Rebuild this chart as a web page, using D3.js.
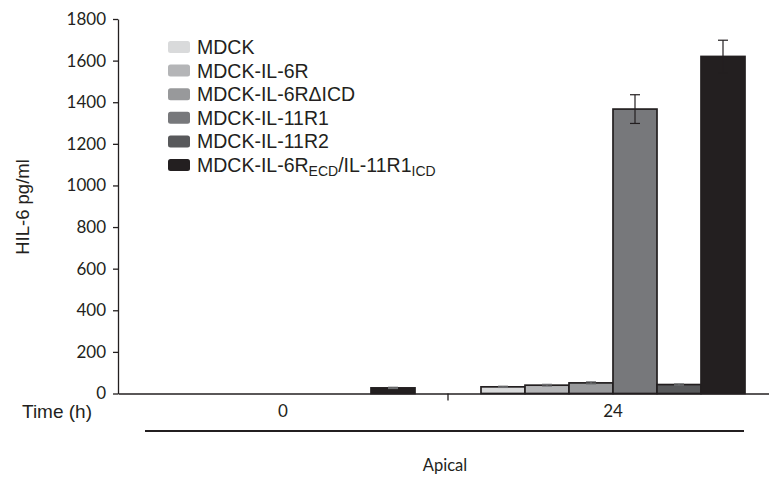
<!DOCTYPE html>
<html>
<head>
<meta charset="utf-8">
<script src="https://cdn.jsdelivr.net/npm/d3@7/dist/d3.min.js"></script>
<style>
  html, body { margin: 0; padding: 0; background: #fff; }
  svg { display: block; }
</style>
</head>
<body>
<svg id="chart" width="769" height="482"></svg>
<script>
// Time points (h) and cell lines
const timePoints = ["0", "24"];
const cellLines = ["MDCK", "MDCK-IL-6R", "MDCK-IL-6R\u0394ICD", "MDCK-IL-11R1", "MDCK-IL-11R2", "MDCK-IL-6R_ECD/IL-11R1_ICD"];
const barColors = ["#d9dadb", "#b4b5b7", "#98999b", "#77787b", "#58595b", "#231f20"];

// HIL-6 (pg/ml) per cell line, one array per time point
const values0h  = [0, 0, 0, 0, 0, 27];
const values24h = [32, 40, 51, 1367, 43, 1620];
// standard deviations
const errors0h  = [0, 0, 0, 0, 0, 3];
const errors24h = [3, 4, 5, 69, 3, 78];

const yTicks = [0, 200, 400, 600, 800, 1000, 1200, 1400, 1600, 1800];

const svg = d3.select("#chart");
const ink = "#231f20";
const tickFont = "Lato, 'Open Sans', sans-serif";
const labelFont = "'Liberation Sans', Arial, sans-serif";

const x0 = d3.scaleBand().domain(timePoints).range([118, 778]).padding(0);
const x1 = d3.scaleBand().domain(cellLines).range([33, 297]).padding(0);
const y = d3.scaleLinear().domain([0, 1800]).range([393.5, 19]);
const color = d3.scaleOrdinal().domain(cellLines).range(barColors);

const rows = [
  { t: "0", vals: values0h, errs: errors0h },
  { t: "24", vals: values24h, errs: errors24h }
];

// bars
const groups = svg.append("g").selectAll("g")
  .data(rows).join("g")
  .attr("transform", d => `translate(${x0(d.t)},0)`);

groups.selectAll("rect")
  .data(d => cellLines.map((c, i) => ({ c, v: d.vals[i], e: d.errs[i] })))
  .join("rect")
  .attr("x", d => x1(d.c))
  .attr("y", d => y(d.v))
  .attr("width", x1.bandwidth())
  .attr("height", d => y(0) - y(d.v))
  .attr("fill", d => color(d.c))
  .attr("stroke", ink)
  .attr("stroke-width", 1.7);

// error bars
const eb = groups.selectAll("g.err")
  .data(d => cellLines.map((c, i) => ({ c, v: d.vals[i], e: d.errs[i] })).filter(d => d.v > 0))
  .join("g").attr("class", "err");
const cx = d => x1(d.c) + x1.bandwidth() / 2;
const ebColor = d => d.v > 500 ? ink : "#6d6e70";
eb.append("line")
  .attr("x1", cx).attr("x2", cx)
  .attr("y1", d => y(d.v - d.e))
  .attr("y2", d => y(d.v + d.e))
  .attr("stroke", ebColor)
  .attr("stroke-width", 1.2);
[-1, 1].forEach(s => {
  eb.append("line")
    .attr("x1", d => cx(d) - 5)
    .attr("x2", d => cx(d) + 5)
    .attr("y1", d => y(d.v + s * d.e))
    .attr("y2", d => y(d.v + s * d.e))
    .attr("stroke", ebColor)
    .attr("stroke-width", 1.2);
});

// y axis
const yAxis = d3.axisLeft(y).tickValues(yTicks).tickFormat(d3.format("d"))
  .tickSize(5).tickSizeOuter(0).tickPadding(7);
const gy = svg.append("g").attr("transform", "translate(118,0)").call(yAxis);
gy.select(".domain").attr("stroke", ink).attr("stroke-width", 1.3);
gy.selectAll(".tick line").attr("stroke", ink).attr("stroke-width", 1.3);
gy.selectAll(".tick text")
  .attr("font-family", tickFont)
  .attr("font-size", 17)
  .attr("fill", ink);

// x axis: baseline with a divider tick between time points
const xAxis = d3.axisBottom(x0).tickValues([]).tickSizeOuter(0);
const gx = svg.append("g").attr("transform", `translate(0,${y(0)})`).call(xAxis);
gx.select(".domain").attr("stroke", ink).attr("stroke-width", 1.6);
gx.append("line")
  .attr("x1", x0("24")).attr("x2", x0("24"))
  .attr("y1", 0).attr("y2", 7)
  .attr("stroke", ink).attr("stroke-width", 1.3);

// time labels
svg.append("g").selectAll("text")
  .data(timePoints).join("text")
  .attr("x", d => x0(d) + x0.bandwidth() / 2)
  .attr("y", 417)
  .attr("text-anchor", "middle")
  .attr("font-family", tickFont)
  .attr("font-size", 17)
  .attr("fill", ink)
  .text(d => d);

svg.append("text")
  .attr("x", 22).attr("y", 418)
  .attr("font-family", labelFont)
  .attr("font-size", 19)
  .attr("fill", ink)
  .text("Time (h)");

// compartment bracket
svg.append("line")
  .attr("x1", 145).attr("x2", 744)
  .attr("y1", 431).attr("y2", 431)
  .attr("stroke", ink).attr("stroke-width", 2);
svg.append("text")
  .attr("x", 445).attr("y", 471)
  .attr("text-anchor", "middle")
  .attr("font-family", tickFont)
  .attr("font-size", 16.5)
  .attr("fill", ink)
  .text("Apical");

// y label
svg.append("text")
  .attr("transform", "translate(29,207) rotate(-90)")
  .attr("text-anchor", "middle")
  .attr("font-family", labelFont)
  .attr("font-size", 18.5)
  .attr("fill", ink)
  .text("HIL-6 pg/ml");

// legend
const legend = svg.append("g").attr("transform", "translate(168,47)");
const item = legend.selectAll("g").data(cellLines).join("g")
  .attr("transform", (d, i) => `translate(0,${i * 23.6})`);
item.append("rect")
  .attr("x", 0).attr("y", -6).attr("width", 22).attr("height", 12)
  .attr("rx", 2.5)
  .attr("fill", d => color(d));
const lt = item.append("text")
  .attr("x", 29).attr("y", 7)
  .attr("font-family", labelFont)
  .attr("font-size", 19.5)
  .attr("fill", ink);
lt.each(function(d) {
  const t = d3.select(this);
  // "_XYZ" marks a subscript run
  const parts = d.split(/(_[A-Z]+)/).filter(s => s.length);
  let lowered = false;
  parts.forEach(p => {
    if (p.startsWith("_")) {
      t.append("tspan").attr("font-size", 14).attr("dy", lowered ? 0 : 4).text(p.slice(1));
      lowered = true;
    } else {
      t.append("tspan").attr("dy", lowered ? -4 : 0).text(p);
      lowered = false;
    }
  });
});
</script>
</body>
</html>
